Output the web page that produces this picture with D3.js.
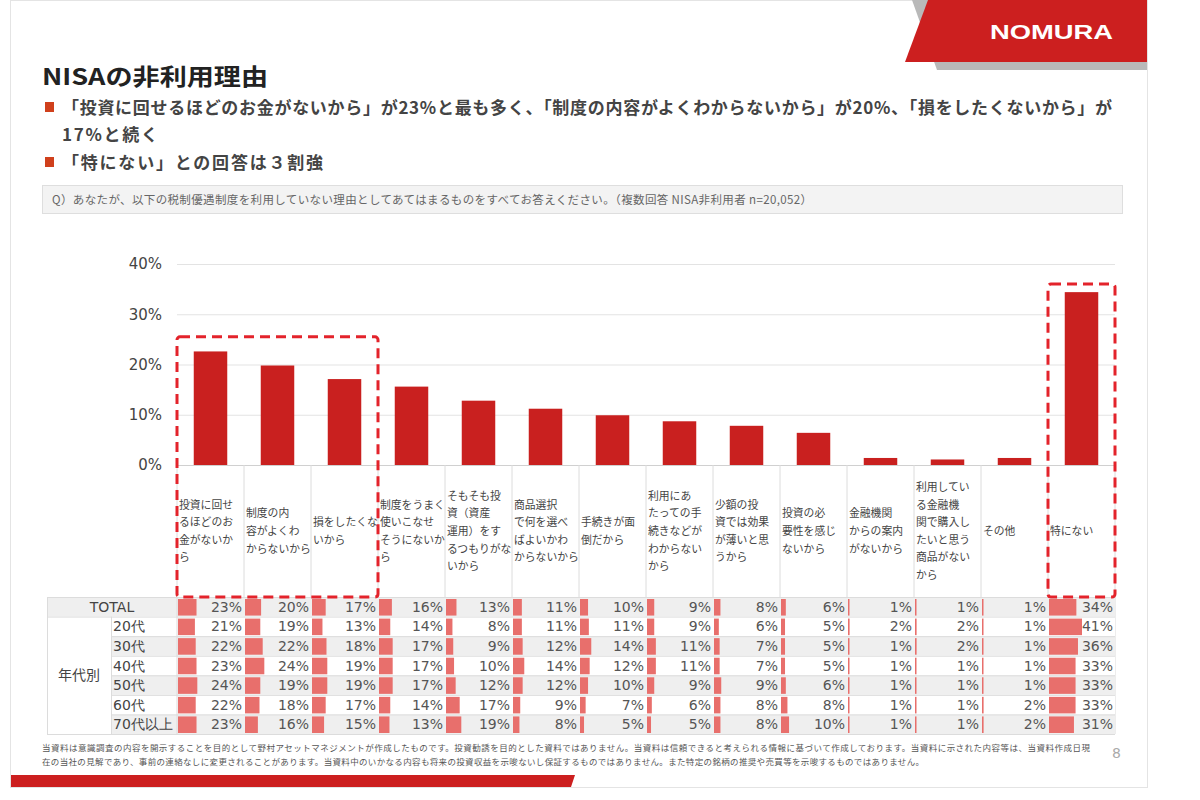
<!DOCTYPE html>
<html>
<head>
<meta charset="utf-8">
<title>NISAの非利用理由</title>
<style>
body { margin: 0; background: #fff; }
text { font-family: "Noto Sans CJK JP", "Noto Sans", sans-serif; }
.num { font-family: "DejaVu Sans", Verdana, sans-serif; }
</style>
</head>
<body>
<svg width="1200" height="800"></svg>
<script src="https://d3js.org/d3.v7.min.js"></script>
<script>
// categories (line breaks as shown under the bars)
var categories = [
  "投資に回せ\nるほどのお\n金がないか\nら",
  "制度の内\n容がよくわ\nからないから",
  "損をしたくな\nいから",
  "制度をうまく\n使いこなせ\nそうにないか\nら",
  "そもそも投\n資（資産\n運用）をす\nるつもりがな\nいから",
  "商品選択\nで何を選べ\nばよいかわ\nからないから",
  "手続きが面\n倒だから",
  "利用にあ\nたっての手\n続きなどが\nわからない\nから",
  "少額の投\n資では効果\nが薄いと思\nうから",
  "投資の必\n要性を感じ\nないから",
  "金融機関\nからの案内\nがないから",
  "利用してい\nる金融機\n関で購入し\nたいと思う\n商品がない\nから",
  "その他",
  "特にない"
];
// bar heights (TOTAL, %)
var totalValues = [22.6, 19.8, 17.1, 15.6, 12.8, 11.2, 9.9, 8.7, 7.8, 6.4, 1.4, 1.1, 1.4, 34.4];
var yTicks = [0, 10, 20, 30, 40];

// table
var rowLabels = ["TOTAL", "20代", "30代", "40代", "50代", "60代", "70代以上"];
var rowTotal = [23, 20, 17, 16, 13, 11, 10, 9, 8, 6, 1, 1, 1, 34];
var row20 = [21, 19, 13, 14, 8, 11, 11, 9, 6, 5, 2, 2, 1, 41];
var row30 = [22, 22, 18, 17, 9, 12, 14, 11, 7, 5, 1, 2, 1, 36];
var row40 = [23, 24, 19, 17, 10, 14, 12, 11, 7, 5, 1, 1, 1, 33];
var row50 = [24, 19, 19, 17, 12, 12, 10, 9, 9, 6, 1, 1, 1, 33];
var row60 = [22, 18, 17, 14, 17, 9, 7, 6, 8, 8, 1, 1, 2, 33];
var row70 = [23, 16, 15, 13, 19, 8, 5, 5, 8, 10, 1, 1, 2, 31];
var tableRows = [rowTotal, row20, row30, row40, row50, row60, row70];

// highlighted groups (category indices)
var highlightA = [0, 1, 2];
var highlightB = [13];

var svg = d3.select("svg");
var red = "#c9201f";

svg.append("rect").attr("width", 1200).attr("height", 800).attr("fill", "#fff");
// slide frame
svg.append("rect").attr("x", 10.5).attr("y", 0.5).attr("width", 1137).attr("height", 787)
  .attr("fill", "none").attr("stroke", "#e4e4e4");

// logo ribbon
svg.append("polygon").attr("points", "912,0 1147,0 1147,70 937,70").attr("fill", "#b9b9b9");
svg.append("polygon").attr("points", "928,0 1147,0 1147,62 905,62").attr("fill", "#cc1f1f");
svg.append("text").attr("x", 990).attr("y", 39).attr("fill", "#fff")
  .attr("textLength", 123).attr("lengthAdjust", "spacingAndGlyphs")
  .style("font", "bold 21px 'Liberation Sans', Arial, sans-serif").text("NOMURA");

// title + bullets
svg.append("text").attr("x", 42).attr("y", 85).attr("fill", "#222")
  .attr("textLength", 226).attr("lengthAdjust", "spacingAndGlyphs")
  .style("font-size", "23px").style("font-weight", "bold").text("NISAの非利用理由");

var bullets = [
  {y: 114, t: "「投資に回せるほどのお金がないから」が23%と最も多く、「制度の内容がよくわからないから」が20%、「損をしたくないから」が", sq: true, w: 1050},
  {y: 141, t: "17%と続く", sq: false, w: 96},
  {y: 169, t: "「特にない」との回答は３割強", sq: true, w: 261}
];
bullets.forEach(function(b) {
  if (b.sq) svg.append("rect").attr("x", 45).attr("y", b.y - 12).attr("width", 9).attr("height", 10).attr("fill", "#d0401c");
  svg.append("text").attr("x", 62).attr("y", b.y).attr("fill", "#444")
    .attr("textLength", b.w)
    .style("font-size", "17px").style("font-weight", "bold").text(b.t);
});

// question box
svg.append("rect").attr("x", 42.5).attr("y", 185.5).attr("width", 1080).attr("height", 28)
  .attr("fill", "#f3f3f3").attr("stroke", "#dedede");
svg.append("text").attr("x", 52).attr("y", 204).attr("fill", "#666").style("font-size", "11.5px")
  .attr("textLength", 760)
  .text("Q）あなたが、以下の税制優遇制度を利用していない理由としてあてはまるものをすべてお答えください。（複数回答 NISA非利用者 n=20,052）");

// scales
var x0 = 177, x1 = 1115;
var col = d3.scaleBand().domain(d3.range(categories.length)).range([x0, x1]);
var x = d3.scaleBand().domain(d3.range(categories.length)).range([x0, x1]).paddingInner(0.5).paddingOuter(0.25);
var y = d3.scaleLinear().domain([0, 40]).range([465, 264]);

// axis + gridlines
var yAxis = svg.append("g").attr("transform", "translate(" + x0 + ",0)")
  .call(d3.axisLeft(y).tickValues(yTicks).tickFormat(function(d) { return d + "%"; })
    .tickSize(-(x1 - x0)).tickPadding(15));
yAxis.select(".domain").remove();
yAxis.selectAll("line").attr("stroke", function(d) { return d === 0 ? "#d0d0d0" : "#e3e3e3"; });
yAxis.selectAll("text").attr("class", "num").attr("fill", "#444").style("font-size", "15px");

// bars
svg.append("g").selectAll("rect").data(totalValues).join("rect")
  .attr("x", function(d, i) { return x(i); })
  .attr("y", function(d) { return y(d); })
  .attr("width", x.bandwidth())
  .attr("height", function(d) { return y(0) - y(d); })
  .attr("fill", red);

// category label cells
var tableTop = 597, tableBottom = 734;
var labelTop = 465;
svg.append("g").selectAll("line").data(d3.range(categories.length + 1)).join("line")
  .attr("x1", function(i) { return x0 + i * col.step(); })
  .attr("x2", function(i) { return x0 + i * col.step(); })
  .attr("y1", labelTop).attr("y2", tableBottom)
  .attr("stroke", "#dcdcdc");

var lineH = 17.6;
svg.append("g").selectAll("text").data(categories).join("text")
  .attr("x", function(d, i) { return col(i) + 2; })
  .attr("y", function(d) { var n = d.split("\n").length; return 531 - (n - 1) * lineH / 2 + 4; })
  .attr("fill", "#444").style("font-size", "10.8px")
  .each(function(d) {
    var t = d3.select(this), xx = t.attr("x");
    d.split("\n").forEach(function(s, k) {
      t.append("tspan").attr("x", xx).attr("dy", k === 0 ? 0 : lineH).text(s);
    });
  });

// table
var row = d3.scaleBand().domain(rowLabels).range([tableTop, tableBottom]);
var tbl = svg.append("g");
tbl.selectAll("rect.bg").data(rowLabels).join("rect").attr("class", "bg")
  .attr("x", function(d, i) { return i === 0 ? 47 : 111; })
  .attr("y", function(d) { return row(d); })
  .attr("width", function(d, i) { return x1 - (i === 0 ? 47 : 111); })
  .attr("height", row.bandwidth())
  .attr("fill", function(d, i) { return i % 2 === 0 ? "#efefef" : "#fff"; });

// row separators
tbl.selectAll("line.h").data(rowLabels.concat(["end"])).join("line").attr("class", "h")
  .attr("x1", function(d, i) { return (i <= 1 || i === rowLabels.length) ? 47 : 111; })
  .attr("x2", x1)
  .attr("y1", function(d, i) { return tableTop + i * row.step() + 0.5; })
  .attr("y2", function(d, i) { return tableTop + i * row.step() + 0.5; })
  .attr("stroke", "#dcdcdc");
[47.5, 111.5, x0].forEach(function(xx, k) {
  tbl.append("line").attr("x1", xx).attr("x2", xx)
    .attr("y1", k === 1 ? tableTop + row.step() : tableTop).attr("y2", tableBottom)
    .attr("stroke", "#dcdcdc");
});

tbl.append("text").attr("x", 112).attr("y", row("TOTAL") + row.bandwidth() / 2 + 5)
  .attr("text-anchor", "middle").attr("class", "num").attr("fill", "#444").style("font-size", "14px").text("TOTAL");
tbl.append("text").attr("x", 79).attr("y", (row("20代") + tableBottom) / 2 + 5)
  .attr("text-anchor", "middle").attr("fill", "#444").style("font-size", "14px").text("年代別");
tbl.selectAll("text.age").data(rowLabels.slice(1)).join("text").attr("class", "age num")
  .attr("x", 113).attr("y", function(d) { return row(d) + row.bandwidth() / 2 + 5; })
  .attr("fill", "#444").style("font-size", "14px").text(function(d) { return d; });

// data bars in cells
var cellBar = d3.scaleLinear().domain([0, 41]).range([0, 33]);
tableRows.forEach(function(vals, r) {
  var ry = row(rowLabels[r]);
  var g = tbl.append("g");
  g.selectAll("rect").data(vals).join("rect")
    .attr("x", function(d, i) { return col(i) + 1; })
    .attr("y", ry + 2)
    .attr("width", function(d) { return Math.max(1.5, cellBar(d)); })
    .attr("height", row.bandwidth() - 3)
    .attr("fill", "#e86f6c");
  g.selectAll("text").data(vals).join("text").attr("class", "num")
    .attr("x", function(d, i) { return col(i) + col.bandwidth() - 2; })
    .attr("y", ry + row.bandwidth() / 2 + 5)
    .attr("text-anchor", "end").attr("fill", "#555").style("font-size", "14px")
    .text(function(d) { return d + "%"; });
});

// dashed highlight boxes
function box(idx, topVal) {
  svg.append("rect")
    .attr("x", col(idx[0]))
    .attr("y", y(topVal))
    .attr("width", col.step() * idx.length)
    .attr("height", tableTop - y(topVal))
    .attr("rx", 3)
    .attr("fill", "none").attr("stroke", "#e3232b").attr("stroke-width", 3)
    .attr("stroke-dasharray", "10,6");
}
box(highlightA, 25.5);
box(highlightB, 36);

// footer
var foot = [
  "当資料は意識調査の内容を開示することを目的として野村アセットマネジメントが作成したものです。投資勧誘を目的とした資料ではありません。当資料は信頼できると考えられる情報に基づいて作成しております。当資料に示された内容等は、当資料作成日現",
  "在の当社の見解であり、事前の連絡なしに変更されることがあります。当資料中のいかなる内容も将来の投資収益を示唆ないし保証するものではありません。また特定の銘柄の推奨や売買等を示唆するものではありません。"
];
svg.append("text").attr("x", 42).attr("y", 751).attr("fill", "#555").style("font-size", "8.5px")
  .attr("textLength", 1048).text(foot[0]);
svg.append("text").attr("x", 42).attr("y", 765).attr("fill", "#555").style("font-size", "8.5px")
  .attr("textLength", 882).text(foot[1]);
svg.append("text").attr("x", 1112).attr("y", 758).attr("fill", "#aaa").attr("class", "num")
  .style("font-size", "14px").text("8");
svg.append("polygon").attr("points", "11,775 575,775 571,787 11,787").attr("fill", "#cc1f1f");
</script>
</body>
</html>
